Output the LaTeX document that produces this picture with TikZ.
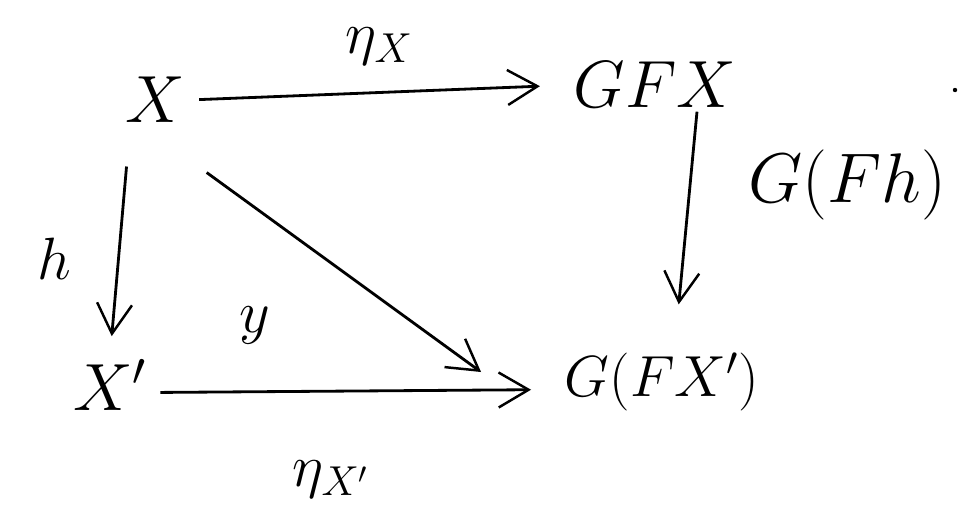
\RequirePackage{fix-cm}
\documentclass[tikz,border=0pt]{standalone}
\usepackage{tikz}
\usetikzlibrary{arrows.meta, positioning}
\tikzset{
  obj/.style={font=\fontsize{38}{44}\selectfont, inner sep=2pt},
  lbl/.style={font=\fontsize{34}{40}\selectfont, inner sep=1pt},
  mor/.style={-{Straight Barb[length=6mm, width=7mm, line width=1.4pt]}, line width=1.6pt}
}
\begin{document}
\begin{tikzpicture}[x=0.02cm, y=-0.02cm]
\useasboundingbox (0,0) rectangle (963,528);
% objects
\node[obj] (X)   at (155,100) {$X$};
\node[obj] (GFX) at (655,85)  {$GFX$};
\node[obj] (Xp)  at (110,385) {$X'$};
\node[obj, font=\fontsize{33}{38}\selectfont] (GFXp) at (662,382) {$G(FX')$};
% morphisms
\draw[mor, shorten <=6pt, shorten >=0.6cm] (X.east) -- (GFX.west)
  node[lbl, midway, above=14pt] {$\eta_X$};
\draw[mor, shorten >=0.9cm] ([xshift=0.84cm]GFX.south) -- ([xshift=0.25cm]GFXp.north)
  node[lbl, font=\fontsize{40}{46}\selectfont, midway, right=34pt, yshift=0.9cm] {$G(Fh)$};
\draw[mor, shorten <=0.8cm, shorten >=0.4cm] ([xshift=-0.5cm]X.south) -- (Xp.north)
  node[lbl, midway, left=26pt, yshift=-10pt] {$h$};
\draw[mor, shorten <=0.2cm] ([xshift=0.2cm,yshift=-0.8cm]X.south east) -- ([xshift=-1.6cm,yshift=0.2cm]GFXp.west)
  node[lbl, pos=0.3, below left=1.5cm and 0.2cm] {$y$};
\draw[mor, shorten <=0.2cm, shorten >=0.6cm] ([yshift=-0.15cm]Xp.east) -- ([yshift=-0.15cm]GFXp.west)
  node[lbl, midway, below=38pt, xshift=-0.5cm] {$\eta_{X'}$};
% stray dot
\fill (955,90) circle (2.2);
\end{tikzpicture}
\end{document}
